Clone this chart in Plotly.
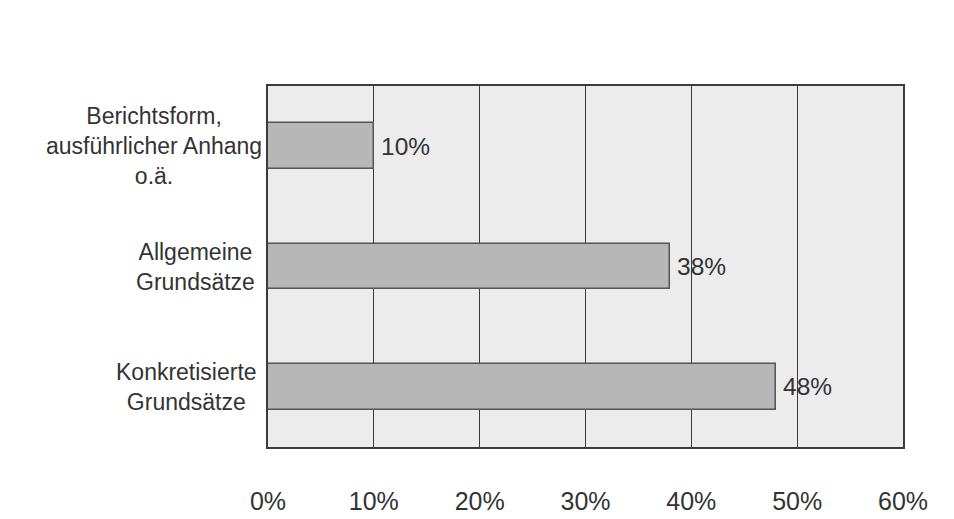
import plotly.graph_objects as go

# Survey shares by form of disclosure
categories = [
    "Berichtsform,<br>ausführlicher Anhang<br>o.ä.",
    "Allgemeine<br>Grundsätze",
    "Konkretisierte<br>Grundsätze",
]
shares = [10, 38, 48]
tick_values = [0, 10, 20, 30, 40, 50, 60]
tick_labels = ["0%", "10%", "20%", "30%", "40%", "50%", "60%"]
value_labels = [f"{v}%" for v in shares]
label_shift = [-4, -11, -9]

FONT = "Liberation Sans, Arial, Helvetica, sans-serif"
TEXT = "#333333"
GRID = "#3c3c3c"

fig = go.Figure()
fig.add_trace(go.Bar(
    x=shares,
    y=list(range(len(categories))),
    orientation="h",
    width=0.38,
    marker=dict(color="#b7b7b7", line=dict(color="#555555", width=1.5)),
    hoverinfo="skip",
))

# value labels just right of each bar end
for i, (v, lab) in enumerate(zip(shares, value_labels)):
    fig.add_annotation(
        x=v, xref="x", y=i, yref="y",
        text=lab, showarrow=False,
        xanchor="left", yanchor="middle", xshift=5,
        font=dict(family=FONT, size=24.5, color=TEXT),
    )

# category labels, lines centred within each block
for i, (cat, dx) in enumerate(zip(categories, label_shift)):
    fig.add_annotation(
        x=0, xref="paper", y=i, yref="y",
        text=cat, showarrow=False,
        xanchor="right", yanchor="middle", align="center",
        xshift=dx,
        font=dict(family=FONT, size=23, color=TEXT),
    )

fig.update_layout(
    width=954, height=519,
    margin=dict(l=268, r=51, t=86, b=72),
    paper_bgcolor="white",
    plot_bgcolor="#ececec",
    showlegend=False,
    bargap=0,
)
fig.update_xaxes(
    range=[0, 60],
    tickvals=tick_values, ticktext=tick_labels,
    showgrid=True, gridcolor=GRID, gridwidth=1.3,
    showline=True, linecolor=GRID, linewidth=1.5, mirror=True,
    zeroline=False, ticks="",
    ticklabelstandoff=31,
    automargin=False,
    tickfont=dict(family=FONT, size=25, color=TEXT),
    fixedrange=True,
)
fig.update_yaxes(
    range=[2.5, -0.5],
    showticklabels=False, showgrid=False,
    showline=True, linecolor=GRID, linewidth=1.5, mirror=True,
    zeroline=False, ticks="",
    automargin=False,
    fixedrange=True,
)

fig.write_html("out.html")
